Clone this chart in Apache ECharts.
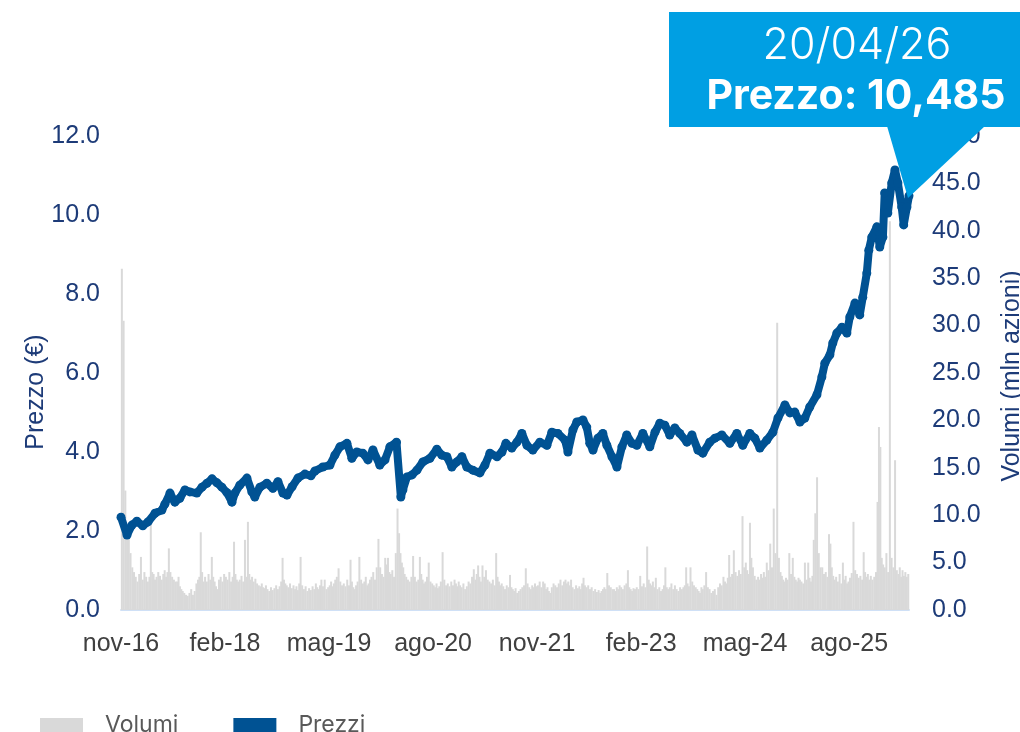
<!DOCTYPE html>
<html>
<head>
<meta charset="utf-8">
<script src="https://cdn.jsdelivr.net/npm/echarts@6/dist/echarts.min.js"></script>
<style>
  html, body { margin: 0; padding: 0; background: #ffffff; }
  #chart { width: 1020px; height: 732px; }
</style>
</head>
<body>
<div id="chart"></div>
<script>
// Closing prices (EUR), sampled along the period
const priceDates = [
  '2016-11-01','2016-11-27','2016-12-19','2017-01-10','2017-02-05','2017-02-26','2017-03-29','2017-04-28',
  '2017-05-11','2017-06-03','2017-06-24','2017-07-16','2017-08-08','2017-08-30','2017-09-29','2017-10-22',
  '2017-11-13','2017-12-05','2017-12-27','2018-01-18','2018-02-09','2018-03-01','2018-03-14','2018-04-05',
  '2018-05-06','2018-05-28','2018-06-10','2018-07-02','2018-08-02','2018-08-29','2018-09-20','2018-10-12',
  '2018-10-30','2018-11-21','2018-12-17','2019-01-17','2019-02-12','2019-02-28','2019-04-04','2019-05-05',
  '2019-05-27','2019-06-18','2019-07-19','2019-08-10','2019-09-01','2019-09-27','2019-10-20','2019-11-11',
  '2019-12-11','2020-01-03','2020-01-25','2020-02-22','2020-03-12','2020-03-21','2020-04-08','2020-04-30',
  '2020-05-22','2020-06-17','2020-07-18','2020-08-18','2020-09-09','2020-10-01','2020-10-23','2020-11-14',
  '2020-12-06','2020-12-28','2021-01-24','2021-02-22','2021-03-16','2021-04-07','2021-05-08','2021-05-30',
  '2021-06-16','2021-07-12','2021-08-04','2021-08-26','2021-09-17','2021-10-13','2021-11-13','2021-12-14',
  '2022-01-05','2022-02-01','2022-03-02','2022-03-15','2022-04-06','2022-04-23','2022-05-20','2022-06-06',
  '2022-06-19','2022-07-03','2022-07-25','2022-08-16','2022-09-03','2022-09-25','2022-10-17','2022-11-08',
  '2022-11-29','2022-12-22','2023-01-13','2023-02-08','2023-03-09','2023-04-01','2023-04-22','2023-05-14',
  '2023-06-05','2023-06-27','2023-07-19','2023-08-20','2023-09-11','2023-10-07','2023-10-29','2023-11-28',
  '2023-12-21','2024-01-21','2024-02-24','2024-03-26','2024-04-21','2024-05-22','2024-06-13','2024-07-05',
  '2024-08-05','2024-09-01','2024-09-23','2024-10-24','2024-11-15','2024-12-06','2024-12-29','2025-01-20',
  '2025-02-10','2025-03-12','2025-04-03','2025-04-16','2025-05-08','2025-05-21','2025-06-08','2025-06-30',
  '2025-07-22','2025-08-04','2025-08-27','2025-09-17','2025-09-30','2025-10-18','2025-10-27','2025-11-09',
  '2025-12-01','2025-12-14','2025-12-28','2026-01-05','2026-01-19','2026-02-05','2026-02-18','2026-03-02',
  '2026-03-19','2026-03-28','2026-04-11','2026-04-20'
];
const priceValues = [
  2.35, 1.90, 2.15, 2.25, 2.13, 2.23, 2.45, 2.53,
  2.68, 2.96, 2.73, 2.83, 3.04, 2.99, 2.96, 3.11,
  3.21, 3.32, 3.22, 3.11, 2.97, 2.73, 2.96, 3.16,
  3.34, 2.99, 2.86, 3.11, 3.21, 3.08, 3.25, 2.96,
  2.91, 3.12, 3.34, 3.44, 3.40, 3.52, 3.62, 3.67,
  3.92, 4.13, 4.22, 3.84, 4.00, 3.97, 3.80, 4.05,
  3.67, 3.80, 4.13, 4.25, 2.86, 3.04, 3.37, 3.42,
  3.54, 3.75, 3.84, 4.07, 3.92, 3.88, 3.62, 3.75,
  3.88, 3.62, 3.54, 3.47, 3.67, 3.97, 3.88, 4.00,
  4.22, 4.10, 4.25, 4.47, 4.17, 4.05, 4.25, 4.17,
  4.50, 4.47, 4.30, 4.00, 4.56, 4.76, 4.81, 4.63,
  4.22, 4.05, 4.35, 4.47, 4.17, 3.88, 3.62, 4.13,
  4.43, 4.22, 4.17, 4.47, 4.13, 4.50, 4.73, 4.68,
  4.43, 4.61, 4.47, 4.25, 4.43, 4.05, 3.97, 4.25,
  4.35, 4.43, 4.22, 4.47, 4.17, 4.47, 4.35, 4.10,
  4.30, 4.50, 4.86, 5.19, 4.99, 5.01, 4.76, 4.86,
  5.14, 5.45, 5.90, 6.25, 6.46, 6.76, 7.01, 7.16,
  7.01, 7.42, 7.77, 7.47, 7.92, 8.53, 9.11, 9.44,
  9.70, 9.19, 9.44, 10.56, 10.05, 10.81, 11.14, 10.81,
  10.20, 9.75, 10.20, 10.485
];

// Traded volumes (mln shares), one list per month, from November 2016
const volStartMonth = '2016-11';
const vol2016 = [[36, 30.5, 12.6, 8], [8, 6, 4.5, 4]];
const vol2017 = [
  [3.5, 3, 3.8, 5.6], [3.2, 4, 3.5, 3], [3.5, 9.0, 4, 3.8, 3.2], [3.5, 4, 3.6, 3.2],
  [3.8, 4.2, 3.5, 4, 6.5], [4, 3.5, 3.2, 3], [3, 3.5, 2.5, 2.2, 2], [1.8, 1.6, 1.5, 1.8],
  [2.2, 1.6, 2, 2.8], [3.2, 3.5, 8.2, 4, 3], [3.5, 3, 3.8, 3.2], [5.6, 3.5, 3, 2.5, 2.2]
];
const vol2018 = [
  [3.2, 3.5, 3, 3.8], [3.5, 3.2, 4, 3], [3.5, 7.2, 3.8, 3.2, 3], [3.2, 3.6, 3, 7.4],
  [3.5, 9.3, 3.8, 3.2, 3.5], [3, 3.3, 2.8, 2.6], [2.5, 2.8, 2.4, 2.3, 2.6], [2.2, 2, 2.4, 2.1],
  [2.3, 2.6, 2.2, 2.5], [3, 5.5, 3.2, 2.8, 2.6], [2.4, 2.8, 2.3, 2.6], [2.2, 2.5, 2.1, 2.8, 5.6]
];
const vol2019 = [
  [2.6, 2.2, 2.5, 2], [2.3, 2.1, 2.5, 2.2], [2.8, 2.4, 2.2, 2.6, 3.2], [2.5, 3.2, 2.2, 2.4],
  [2.6, 3, 2.5, 2.8, 3.2], [3.5, 4.4, 3, 2.6], [2.8, 2.5, 3.2, 2.6], [5.3, 3, 2.4, 2.2, 2.6],
  [3, 5.6, 3.2, 2.8], [3, 3.5, 2.6, 2.8, 3.2], [3.5, 4, 3.2, 4.5], [7.5, 4.5, 3.8, 3.5]
];
const vol2020 = [
  [5.5, 4.8, 5.5, 4, 3.8], [4.2, 3.5, 6, 10.7], [8.1, 6, 5, 4.5, 3.8], [3.5, 3.2, 3, 3.5],
  [5.7, 3.5, 3, 3.2], [5.6, 3.8, 3.2, 2.8, 3], [3.5, 5, 3, 2.8], [2.6, 2.4, 2.8, 2.3, 2.5],
  [3, 6.1, 3.2, 2.6], [2.8, 2.5, 3, 2.6], [3.2, 2.8, 2.5, 3, 2.6], [2.4, 2.8, 2.2, 2.5]
];
const vol2021 = [
  [3, 2.8, 3.5, 4.3], [3.2, 3.8, 4.7, 3.5, 3], [4.7, 3.5, 4.2, 3.2], [3, 2.8, 3.2, 2.6],
  [6, 3.5, 3, 2.6, 2.8], [2.5, 2.2, 2.6, 2.4], [3.7, 2.4, 2.2, 2, 2.3], [1.8, 2, 2.2, 2.4],
  [2.6, 4.4, 2.8, 2.4], [2.2, 2.6, 2.4, 2.8, 2.5], [2.6, 3, 2.4, 3], [2.8, 2.2, 2.4, 2, 1.8]
];
const vol2022 = [
  [2.4, 2.8, 2.6, 2.4], [2.8, 3.2, 2.6, 3], [3.2, 2.8, 3, 2.6, 3.2], [2.4, 2.2, 2.6, 2.3],
  [2.5, 2.2, 2.8, 3.4, 2.6], [2.4, 2.6, 2.2, 2.4], [2, 2.2, 1.9, 2.1], [1.8, 2, 2.2, 2.4, 2.2],
  [3.9, 2.6, 2.4, 2.2], [2.2, 2, 2.4, 2.2, 2.6], [2.4, 2.2, 2.6, 2.8], [4.2, 2.4, 2.2, 2, 2.3]
];
const vol2023 = [
  [2.2, 2.4, 2.2, 3.6], [2.5, 2.8, 2.4, 6.7], [3.2, 2.8, 2.6, 3, 2.4], [3.4, 2.2, 2.4, 2],
  [2.2, 2.6, 4.5, 2.4, 2.2], [2.4, 2.8, 2.2, 2.6], [2.2, 2, 2.4, 2.2], [2.4, 2.6, 4.5, 2.8, 2.5],
  [4.5, 3, 2.6, 2.4], [2.2, 2, 1.8, 2.4, 2.2], [2.6, 4, 2.4, 2.2], [1.8, 2, 2.2, 1.6]
];
const vol2024 = [
  [2.4, 2.8, 2.6, 3.5], [3, 2.8, 3.4, 5.8, 3.5], [3.8, 6.3, 4, 3.6], [4.2, 3.8, 9.9, 4.5],
  [5, 4.2, 3.8, 9.2, 5.5], [4.5, 3.6, 3.2, 3.5], [3.2, 3.8, 3.4, 4, 3.5], [5, 4.2, 7, 4.5],
  [10.7, 6, 30.3, 5.5], [4, 3.6, 3.2, 3, 3.4], [3.2, 6, 3.8, 5.5], [3.5, 3.2, 3, 3.4, 3.2]
];
const vol2025 = [
  [3, 2.8, 5, 3.2], [5, 3.4, 3, 3.6, 7.4], [10.2, 14, 6, 4.5], [4.5, 3.8, 4, 3.5],
  [8, 7, 4.5, 3.6, 3.2], [3.5, 3, 3.8, 2.8], [5, 3.2, 3.6, 2.8, 3], [3.4, 3.9, 9.3, 4.2],
  [3.8, 3.4, 3.6, 3.2], [6.1, 4, 3.5, 3.8, 3.2], [3.6, 3.2, 3.5, 4], [11.4, 19.3, 17.2, 5.5, 4.8]
];
const vol2026 = [[4.5, 6, 4, 41], [5.5, 4.5, 15.8, 4.2], [3.8, 4.5, 3.5, 4.2, 3.6], [4, 3.5, 3.8]];

// Axis ticks and legend labels
const monthNames = ['gen', 'feb', 'mar', 'apr', 'mag', 'giu', 'lug', 'ago', 'set', 'ott', 'nov', 'dic'];
const priceTicks = [0, 2, 4, 6, 8, 10, 12];
const volumeTicks = [0, 5, 10, 15, 20, 25, 30, 35, 40, 45, 50];
const seriesNames = ['Volumi', 'Prezzi'];
const lastLabelDate = '20/04/26';
const lastLabelPrice = '10,485';

// --- helpers: dates -> month position on the horizontal scale (0 = 1 Nov 2016)
const BASE_Y = 2016, BASE_M = 10;
function daysIn(y, m0) { return new Date(y, m0 + 1, 0).getDate(); }
function monthPos(str) {
  const [y, m, d] = str.split('-').map(Number);
  return (y - BASE_Y) * 12 + (m - 1 - BASE_M) + ((d || 1) - 1) / daysIn(y, m - 1);
}
const endPos = monthPos(priceDates[priceDates.length - 1]);

const priceData = priceDates.map((d, i) => [monthPos(d), priceValues[i]]);

const volumeData = [];
const startPos = monthPos(volStartMonth + '-01');
[vol2016, vol2017, vol2018, vol2019, vol2020, vol2021, vol2022, vol2023, vol2024, vol2025, vol2026]
  .flat()
  .forEach((vals, k) => {
    const m0 = startPos + k;
    const span = Math.min(1, endPos - m0);
    vals.forEach((v, j) => volumeData.push([m0 + span * (j + 0.5) / vals.length, v]));
  });

function monthLabel(v) {
  const idx = BASE_M + v;
  const yy = String(BASE_Y + Math.floor(idx / 12)).slice(2);
  return monthNames[idx % 12] + '-' + yy;
}

const navy = '#1d3b78';
const calloutBlue = '#009fe3';
const chart = echarts.init(document.getElementById('chart'), null, { renderer: 'canvas' });

chart.setOption({
  animation: false,
  backgroundColor: '#ffffff',
  grid: { left: 121, right: 111, top: 136, bottom: 122, containLabel: false },
  legend: {
    data: seriesNames,
    left: 35,
    top: 709,
    icon: 'rect',
    itemWidth: 43,
    itemHeight: 15,
    itemGap: 55,
    textStyle: { fontFamily: 'Inter', fontSize: 23, color: '#595959', padding: [0, 0, 0, 17] }
  },
  xAxis: {
    type: 'value',
    min: 0,
    max: endPos,
    interval: 15,
    axisLine: { show: true, onZero: false, lineStyle: { color: '#cfe0f6', width: 2 } },
    axisTick: { show: false },
    splitLine: { show: false },
    axisLabel: {
      margin: 22,
      showMaxLabel: false,
      color: '#404040',
      fontFamily: 'Liberation Sans',
      fontSize: 25,
      formatter: v => (Math.abs(v % 15) < 1e-6 ? monthLabel(Math.round(v)) : '')
    }
  },
  yAxis: [
    {
      type: 'value',
      min: priceTicks[0],
      max: priceTicks[priceTicks.length - 1],
      interval: priceTicks[1] - priceTicks[0],
      axisLine: { show: false },
      axisTick: { show: false },
      splitLine: { show: false },
      axisLabel: {
        margin: 21,
        color: navy,
        fontFamily: 'Liberation Sans',
        fontSize: 25,
        formatter: v => v.toFixed(1)
      }
    },
    {
      type: 'value',
      min: volumeTicks[0],
      max: volumeTicks[volumeTicks.length - 1],
      interval: volumeTicks[1] - volumeTicks[0],
      axisLine: { show: false },
      axisTick: { show: false },
      splitLine: { show: false },
      axisLabel: {
        margin: 23,
        color: navy,
        fontFamily: 'Liberation Sans',
        fontSize: 25,
        formatter: v => v.toFixed(1)
      }
    }
  ],
  series: [
    {
      name: seriesNames[0],
      type: 'bar',
      yAxisIndex: 1,
      data: volumeData,
      barWidth: 2,
      itemStyle: { color: '#d9d9d9' },
      z: 1
    },
    {
      name: seriesNames[1],
      type: 'line',
      yAxisIndex: 0,
      data: priceData,
      symbol: 'circle',
      symbolSize: 9,
      showSymbol: true,
      itemStyle: { color: '#005293' },
      lineStyle: { color: '#005293', width: 8, cap: 'round', join: 'round' },
      z: 3
    }
  ],
  graphic: [
    {
      type: 'text',
      x: 36, y: 392,
      rotation: Math.PI / 2,
      style: {
        text: 'Prezzo (€)',
        fill: navy,
        font: '25px "Liberation Sans"',
        align: 'center',
        verticalAlign: 'middle'
      }
    },
    {
      type: 'text',
      x: 1012, y: 376,
      rotation: Math.PI / 2,
      style: {
        text: 'Volumi (mln azioni)',
        fill: navy,
        font: '25px "Liberation Sans"',
        align: 'center',
        verticalAlign: 'middle'
      }
    },
    // value call-out for the last close
    { type: 'rect', z: 100, shape: { x: 669, y: 12, width: 351, height: 115 }, style: { fill: calloutBlue } },
    { type: 'polygon', z: 100, shape: { points: [[887, 126], [985, 126], [908, 198]] }, style: { fill: calloutBlue } },
    {
      type: 'text', z: 101, x: 857, y: 46,
      style: { text: lastLabelDate, fill: '#ffffff', font: '300 43px Inter', align: 'center', verticalAlign: 'middle' }
    },
    {
      type: 'text', z: 101, x: 856, y: 97,
      style: { text: 'Prezzo: ' + lastLabelPrice, fill: '#ffffff', font: 'bold 41px Inter', align: 'center', verticalAlign: 'middle' }
    }
  ]
});
</script>
</body>
</html>
